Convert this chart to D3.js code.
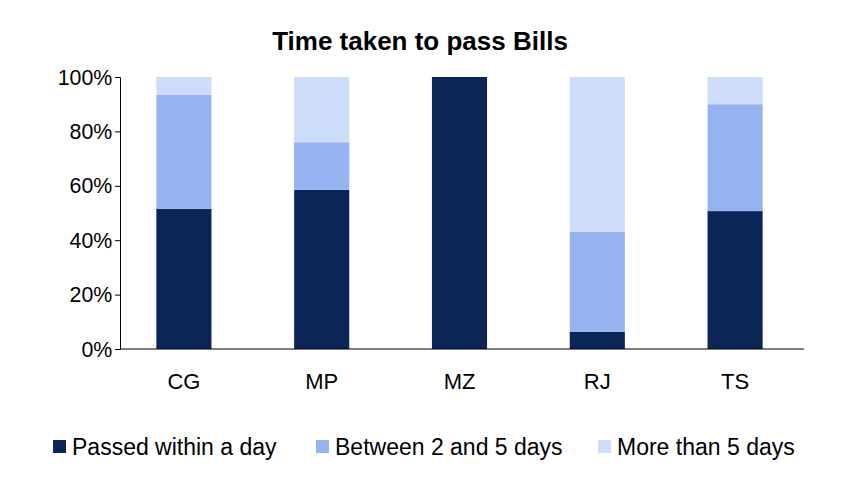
<!DOCTYPE html>
<html><head><meta charset="utf-8">
<script src="https://cdn.jsdelivr.net/npm/d3@7"></script>
<style>body{margin:0;background:#fff}text{font-family:"Liberation Sans",Arial,sans-serif}</style>
</head><body><svg id="c" width="850" height="478"></svg>
<script>
const categories=["CG","MP","MZ","RJ","TS"];
const seriesNames=["Passed within a day","Between 2 and 5 days","More than 5 days"];
const within=[51.5,58.5,100,6.3,50.7];
const between=[41.9,17.5,0,36.7,39.3];
const more=[6.6,24,0,57,10];
const colors=["#0b2656","#95b3f0","#cddcf8"];
const yTicks=[0,20,40,60,80,100];

const svg=d3.select("#c");
const x=d3.scaleBand().domain(categories).range([115,804]).paddingInner(0.6).paddingOuter(0.3);
const y=d3.scaleLinear().domain([0,100]).range([349,77]);
const rows=categories.map((c,i)=>({cat:c,s0:within[i],s1:between[i],s2:more[i]}));
const stack=d3.stack().keys(["s0","s1","s2"])(rows);
svg.selectAll("g.s").data(stack).join("g").attr("fill",(d,i)=>colors[i])
 .selectAll("rect").data(d=>d).join("rect")
 .attr("x",d=>x(d.data.cat)).attr("width",x.bandwidth())
 .attr("y",d=>y(d[1])).attr("height",d=>y(d[0])-y(d[1]));
const ya=svg.append("g").attr("transform","translate(120,0)")
 .call(d3.axisLeft(y).tickValues(yTicks).tickFormat(d=>d+"%").tickSize(5));
ya.selectAll("text").attr("font-size",22).attr("fill","#000").attr("x",-8).attr("transform","scale(0.97,1)");
ya.selectAll("line,path").attr("stroke","#000");
const xa=svg.append("g").attr("transform","translate(0,349)")
 .call(d3.axisBottom(x).tickSize(0).tickPadding(20));
xa.select("path").attr("d","M120,0H804").attr("stroke","#000");
xa.selectAll("text").attr("font-size",22).attr("fill","#000").attr("dy","0.9em");
svg.append("text").attr("x",420).attr("y",50).attr("text-anchor","middle")
 .attr("font-size",26).attr("font-weight","bold").text("Time taken to pass Bills");
const lx=[53,316,598];
seriesNames.forEach((n,i)=>{
 svg.append("rect").attr("x",lx[i]).attr("y",440).attr("width",13).attr("height",13).attr("fill",colors[i]);
 svg.append("text").attr("x",lx[i]+19).attr("y",455).attr("font-size",23).text(n);
});
</script></body></html>
